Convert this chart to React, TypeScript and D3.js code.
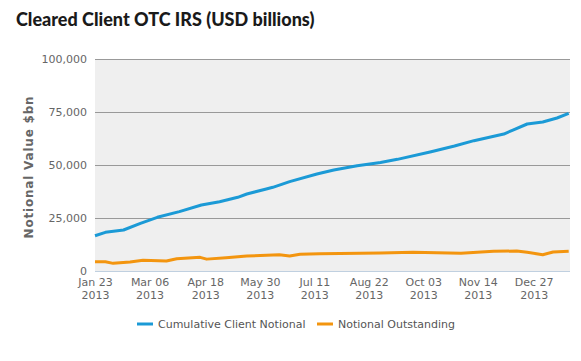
import { useEffect, useRef } from 'react'
import * as d3 from 'd3'

const WIDTH = 581
const HEIGHT = 361
const MARGIN = { top: 59, right: 11, bottom: 90, left: 95 }

const TITLE = 'Cleared Client OTC IRS (USD billions)'
const Y_TITLE = 'Notional Value $bn'
const Y_TICKS = [0, 25000, 50000, 75000, 100000]
const X_TICKS = ['2013-01-23', '2013-03-06', '2013-04-18', '2013-05-30', '2013-07-11', '2013-08-22', '2013-10-03', '2013-11-14', '2013-12-27']
const X_DOMAIN = ['2013-01-23', '2014-01-24']

const SERIES_NAMES = ['Cumulative Client Notional', 'Notional Outstanding']
const COLORS = ['#1b9ad6', '#f3950f']

const cumulativeDates = [
  '2013-01-23', '2013-01-31', '2013-02-14', '2013-02-27', '2013-03-12', '2013-03-29',
  '2013-04-15', '2013-04-29', '2013-05-13', '2013-05-20', '2013-06-04', '2013-06-09',
  '2013-06-22', '2013-07-13', '2013-07-26', '2013-08-13', '2013-08-31', '2013-09-13',
  '2013-10-09', '2013-10-27', '2013-11-11', '2013-12-04', '2013-12-11', '2013-12-22',
  '2014-01-03', '2014-01-14', '2014-01-23',
]
const cumulativeValues = [
  16650, 18250, 19340, 22500, 25330, 28000,
  31130, 32700, 34760, 36320, 38680, 39480,
  42140, 45750, 47640, 49690, 51200, 52670,
  56290, 58960, 61480, 64620, 66500, 69340,
  70280, 72170, 74370,
]

const outstandingDates = [
  '2013-01-23', '2013-01-31', '2013-02-06', '2013-02-19', '2013-03-01', '2013-03-19',
  '2013-03-27', '2013-04-14', '2013-04-19', '2013-05-04', '2013-05-20', '2013-06-14',
  '2013-06-22', '2013-06-30', '2013-07-15', '2013-08-31', '2013-09-25', '2013-11-01',
  '2013-11-26', '2013-12-14', '2013-12-22', '2014-01-03', '2014-01-11', '2014-01-23',
]
const outstandingValues = [
  4400, 4400, 3600, 4250, 5030, 4700,
  5800, 6450, 5600, 6290, 7075, 7700,
  7100, 7900, 8180, 8500, 8800, 8330,
  9280, 9430, 8800, 7700, 8960, 9280,
]

const parse = d3.utcParse('%Y-%m-%d')

export default function App() {
  const axesRef = useRef<SVGGElement>(null)
  const boundsWidth = WIDTH - MARGIN.left - MARGIN.right
  const boundsHeight = HEIGHT - MARGIN.top - MARGIN.bottom

  const xScale = d3.scaleUtc().domain(X_DOMAIN.map((d) => parse(d)!)).range([0, boundsWidth])
  const yScale = d3.scaleLinear().domain([0, 100000]).range([boundsHeight, 0])

  const series = [
    cumulativeDates.map((d, i) => ({ date: parse(d)!, value: cumulativeValues[i] })),
    outstandingDates.map((d, i) => ({ date: parse(d)!, value: outstandingValues[i] })),
  ]

  const line = d3
    .line<{ date: Date; value: number }>()
    .x((d) => xScale(d.date))
    .y((d) => yScale(d.value))

  useEffect(() => {
    const g = d3.select(axesRef.current)
    g.selectAll('*').remove()

    const yAxis = g.append('g').call(
      d3.axisLeft(yScale).tickValues(Y_TICKS).tickSize(0).tickPadding(8).tickFormat((d) => d3.format(',')(d as number)),
    )
    yAxis.select('.domain').remove()
    yAxis
      .selectAll('text')
      .attr('fill', '#666')
      .style('font-family', 'DejaVu Sans, Verdana, sans-serif')
      .style('font-size', '11px')

    const xAxis = g
      .append('g')
      .attr('transform', `translate(0,${boundsHeight})`)
      .call(d3.axisBottom(xScale).tickValues(X_TICKS.map((d) => parse(d)!)).tickSize(0).tickFormat(() => ''))
    xAxis.select('.domain').remove()
    xAxis.selectAll('.tick text').each(function (d) {
      const t = d3.select(this)
      t.text(null)
        .attr('y', 0)
        .attr('dy', null)
        .attr('fill', '#666')
        .style('font-family', 'DejaVu Sans, Verdana, sans-serif')
        .style('font-size', '11px')
      t.append('tspan').attr('x', 0).attr('y', 15).text(d3.utcFormat('%b %d')(d as Date))
      t.append('tspan').attr('x', 0).attr('y', 28).text(d3.utcFormat('%Y')(d as Date))
    })
  }, [])

  return (
    <svg width={WIDTH} height={HEIGHT} style={{ position: 'absolute', left: 0, top: 0, background: '#fff' }}>
      <text x={16} y={26} style={{ fontFamily: 'Lato, sans-serif', fontWeight: 900, fontSize: '18px', fill: '#1a1a1a' }}>
        {TITLE}
      </text>
      <text
        transform={`translate(33,${MARGIN.top + boundsHeight / 2 + 2}) rotate(-90)`}
        textAnchor="middle"
        style={{ fontFamily: 'DejaVu Sans, sans-serif', fontWeight: 'bold', fontSize: '12px', letterSpacing: '0.8px', fill: '#666' }}
      >
        {Y_TITLE}
      </text>
      <g transform={`translate(${MARGIN.left},${MARGIN.top})`}>
        <rect width={boundsWidth} height={boundsHeight} fill="#efefef" />
        {Y_TICKS.map((t) => (
          <line
            key={t}
            x1={0}
            x2={boundsWidth}
            y1={Math.round(yScale(t)) + 0.5}
            y2={Math.round(yScale(t)) + 0.5}
            stroke={t === 0 ? '#c0d0e0' : '#999'}
            strokeWidth={1}
          />
        ))}
        {series.map((s, i) => (
          <path key={i} d={line(s) ?? ''} fill="none" stroke={COLORS[i]} strokeWidth={3} strokeLinejoin="round" />
        ))}
        <g ref={axesRef} />
      </g>
      <g transform="translate(137,324)">
        {SERIES_NAMES.map((name, i) => {
          const x = i === 0 ? 0 : 180
          return (
            <g key={name} transform={`translate(${x},0)`}>
              <line x1={0} x2={16} y1={0} y2={0} stroke={COLORS[i]} strokeWidth={3} />
              <text
                x={21}
                y={4}
                style={{ fontFamily: 'DejaVu Sans, Verdana, sans-serif', fontSize: '11px', fill: '#555' }}
              >
                {name}
              </text>
            </g>
          )
        })}
      </g>
    </svg>
  )
}
